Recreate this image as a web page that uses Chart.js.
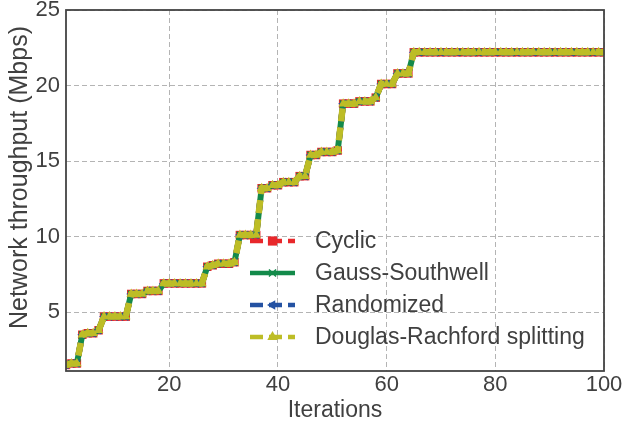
<!DOCTYPE html>
<html>
<head>
<meta charset="utf-8">
<script src="https://cdn.jsdelivr.net/npm/chart.js@4/dist/chart.umd.min.js"></script>
<style>
  html, body { margin: 0; padding: 0; background: #ffffff; }
  #wrap { position: relative; width: 624px; height: 431px; }
</style>
</head>
<body>
<div id="wrap"><canvas id="chart" width="624" height="431"></canvas></div>
<script>
// Iteration index of the distributed solver
const iterations = Array.from({ length: 100 }, (_, k) => k + 1);

// Network throughput (Mbps) per iteration; the four update rules follow the same path
const throughput = [
  1.5, 1.6, 1.6, 3.5, 3.6, 3.6, 3.8, 4.7, 4.7, 4.7,
  4.7, 4.7, 6.2, 6.2, 6.2, 6.4, 6.4, 6.4, 6.9, 6.9,
  6.9, 6.9, 6.9, 6.9, 6.9, 6.9, 8.0, 8.1, 8.2, 8.2,
  8.2, 8.3, 10.1, 10.1, 10.1, 10.1, 13.2, 13.2, 13.4, 13.4,
  13.6, 13.6, 13.6, 14.0, 14.0, 15.4, 15.4, 15.6, 15.6, 15.6,
  15.7, 18.8, 18.8, 18.8, 18.95, 18.95, 18.95, 19.2, 20.1, 20.1,
  20.1, 20.8, 20.8, 20.8, 22.2, 22.2, 22.2, 22.2, 22.2, 22.2,
  22.2, 22.2, 22.2, 22.2, 22.2, 22.2, 22.2, 22.2, 22.2, 22.2,
  22.2, 22.2, 22.2, 22.2, 22.2, 22.2, 22.2, 22.2, 22.2, 22.2,
  22.2, 22.2, 22.2, 22.2, 22.2, 22.2, 22.2, 22.2, 22.2, 22.2
];

const methodNames = ['Cyclic', 'Gauss-Southwell', 'Randomized', 'Douglas-Rachford splitting'];
const xTicks = [20, 40, 60, 80, 100];
const yTicks = [5, 10, 15, 20, 25];
const xTitle = 'Iterations';
const yTitle = 'Network throughput (Mbps)';

const FONT = "'Liberation Sans', Arial, Helvetica, sans-serif";
const TEXT = '#404040';

const styles = [
  { color: '#e8282b', width: 6, dash: [13, 6], marker: 'rect', radius: 6, rot: 0 },
  { color: '#138a4a', width: 6, dash: [], marker: 'crossRot', radius: 4.5, rot: 0 },
  { color: '#2452a2', width: 6, dash: [13, 6], marker: 'triangle', radius: 5, rot: -90 },
  { color: '#bdbd26', width: 6.5, dash: [13, 6], marker: 'triangle', radius: 5.5, rot: 0 }
];

const datasets = methodNames.map((name, k) => ({
  label: name,
  data: iterations.map((it, j) => ({ x: it, y: throughput[j] })),
  borderColor: styles[k].color,
  backgroundColor: styles[k].color,
  borderWidth: styles[k].width,
  borderDash: styles[k].dash,
  borderJoinStyle: 'round',
  borderCapStyle: 'butt',
  pointStyle: styles[k].marker,
  pointRadius: styles[k].radius,
  pointRotation: styles[k].rot,
  pointBorderWidth: styles[k].marker === 'crossRot' ? 1.5 : 0,
  pointBorderColor: styles[k].color,
  pointBackgroundColor: styles[k].color,
  tension: 0,
  order: 3 - k
}));

function markerPath(ctx, style, r, x, y, rot) {
  ctx.save();
  ctx.translate(x, y);
  ctx.rotate(rot * Math.PI / 180);
  ctx.beginPath();
  if (style === 'rect') {
    const s = r * Math.SQRT1_2;
    ctx.rect(-s, -s, 2 * s, 2 * s);
    ctx.fill();
  } else if (style === 'triangle') {
    for (let i = 0; i < 3; i++) {
      const a = i * 2 * Math.PI / 3;
      const px = Math.sin(a) * r, py = -Math.cos(a) * r;
      if (i === 0) ctx.moveTo(px, py); else ctx.lineTo(px, py);
    }
    ctx.closePath();
    ctx.fill();
  } else if (style === 'crossRot') {
    const s = r * Math.SQRT1_2;
    ctx.moveTo(-s, -s); ctx.lineTo(s, s);
    ctx.moveTo(-s, s); ctx.lineTo(s, -s);
    ctx.lineWidth = 1.5;
    ctx.stroke();
  }
  ctx.restore();
}

// Legend with line samples and centred markers, placed inside the axes
const methodLegend = {
  id: 'methodLegend',
  afterDraw(chart) {
    const ctx = chart.ctx;
    const area = chart.chartArea;
    const x0 = area.left + 184, x1 = area.left + 229, xm = (x0 + x1) / 2;
    const textX = area.left + 249;
    const rowY = [231, 263, 295, 327].map(v => v + area.top);
    ctx.save();
    methodNames.forEach((name, k) => {
      const st = styles[k];
      const y = rowY[k];
      ctx.strokeStyle = st.color;
      ctx.fillStyle = st.color;
      ctx.lineWidth = 4.5;
      ctx.lineCap = 'butt';
      ctx.setLineDash(st.dash);
      ctx.beginPath();
      ctx.moveTo(x0, y);
      ctx.lineTo(x1, y);
      ctx.stroke();
      ctx.setLineDash([]);
      markerPath(ctx, st.marker, st.radius + 0.5, xm, y, st.rot);
      ctx.fillStyle = TEXT;
      ctx.font = '23px ' + FONT;
      ctx.textAlign = 'left';
      ctx.textBaseline = 'middle';
      ctx.fillText(name, textX, y + 1);
    });
    ctx.restore();
  }
};

// Box around the plotting area, plus the rotated y-axis caption
const frame = {
  id: 'frame',
  afterDatasetsDraw(chart) {
    const { ctx, chartArea: a } = chart;
    ctx.save();
    ctx.strokeStyle = '#444444';
    ctx.lineWidth = 1.8;
    ctx.setLineDash([]);
    ctx.strokeRect(a.left, a.top, a.right - a.left, a.bottom - a.top);
    ctx.restore();
  },
  afterDraw(chart) {
    const { ctx, chartArea: a } = chart;
    ctx.save();
    ctx.translate(20, (a.top + a.bottom) / 2 - 13);
    ctx.rotate(-Math.PI / 2);
    ctx.fillStyle = TEXT;
    ctx.font = '25px ' + FONT;
    ctx.textAlign = 'center';
    ctx.textBaseline = 'middle';
    ctx.fillText(yTitle, 0, 0);
    ctx.restore();
  }
};

new Chart(document.getElementById('chart'), {
  type: 'line',
  data: { datasets },
  options: {
    responsive: false,
    animation: false,
    events: [],
    layout: { padding: { top: 10, right: 20, left: 0, bottom: 0 } },
    plugins: { legend: { display: false }, tooltip: { enabled: false } },
    scales: {
      x: {
        type: 'linear',
        min: 1,
        max: 100,
        afterBuildTicks: s => { s.ticks = xTicks.map(v => ({ value: v })); },
        afterFit: s => { s.height = 60; s.paddingLeft = 0; s.paddingRight = 0; },
        ticks: { autoSkip: false, maxRotation: 0, padding: 1, color: TEXT, font: { family: FONT, size: 22 } },
        grid: { color: '#b4b4b4', lineWidth: 1, drawTicks: false },
        border: { display: false, dash: [5, 3] },
        title: { display: true, text: xTitle, color: TEXT, font: { family: FONT, size: 23 }, padding: { top: 0, bottom: 7 } }
      },
      y: {
        type: 'linear',
        min: 1.1,
        max: 25,
        afterBuildTicks: s => { s.ticks = yTicks.map(v => ({ value: v })); },
        afterFit: s => { s.width = 66; s.paddingTop = 0; s.paddingBottom = 0; },
        ticks: { autoSkip: false, padding: 6, color: TEXT, font: { family: FONT, size: 22 } },
        grid: { color: '#b4b4b4', lineWidth: 1, drawTicks: false },
        border: { display: false, dash: [5, 3] },
        title: { display: false }
      }
    }
  },
  plugins: [frame, methodLegend]
});
</script>
</body>
</html>
